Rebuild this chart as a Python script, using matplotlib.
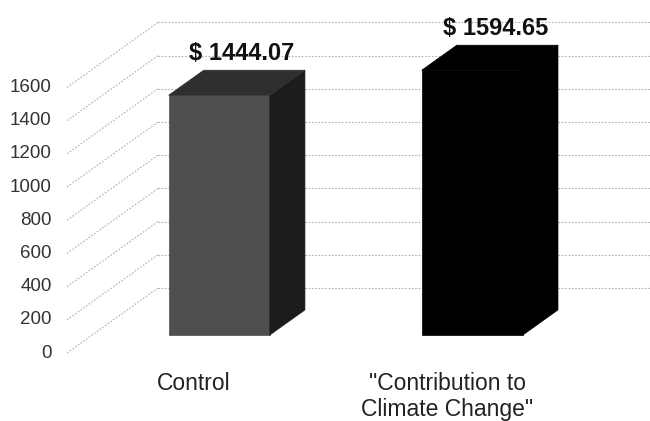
import matplotlib
matplotlib.use("Agg")
import matplotlib.pyplot as plt
from matplotlib.patches import Polygon

plt.rcParams["font.family"] = ["Liberation Sans", "DejaVu Sans"]

# data
categories = ["Control", "\"Contribution to\nClimate Change\""]
values = [1444.07, 1594.65]
value_labels = ["$ 1444.07", "$ 1594.65"]
yticks = [0, 200, 400, 600, 800, 1000, 1200, 1400, 1600]

# pseudo-3d geometry (category units / value units)
DX = 0.360      # full depth shift in x
DV = 392.0      # full depth shift in value units
Z_FRONT = 0.277
Z_BACK = 0.662
BAR_W = 0.40
WALL_X = -0.502
RIGHT_X = 1.85

face_colors = [("#4f4f4f", "#2f2f2f", "#1c1c1c"), ("#000000", "#000000", "#000000")]


def proj(x, v, z):
    return (x + z * DX, v + z * DV)


fig = plt.figure(figsize=(6.5, 4.21), dpi=100)
ax = fig.add_axes([0, 0, 1, 1])
ax.set_xlim(-0.7668, 1.802)
ax.set_ylim(-409.6, 2126.5)
ax.axis("off")

grid_kw = dict(color="#b0b0b0", lw=0.8, ls=(0, (1.5, 1.5)), zorder=1)
for t in yticks:
    x0, y0 = proj(WALL_X, t, 0)
    x1, y1 = proj(WALL_X, t, 1)
    ax.plot([x0, x1], [y0, y1], **grid_kw)
    ax.plot([x1, RIGHT_X], [y1, y1], **grid_kw)
    ax.text(x0 - 0.06, y0, str(t), ha="right", va="center",
            fontsize=13.5, color="#333333")

for i, (v, cols) in enumerate(zip(values, face_colors)):
    front_c, top_c, side_c = cols
    xl, xr = i - BAR_W / 2, i + BAR_W / 2
    front = [proj(xl, 0, Z_FRONT), proj(xr, 0, Z_FRONT),
             proj(xr, v, Z_FRONT), proj(xl, v, Z_FRONT)]
    side = [proj(xr, 0, Z_FRONT), proj(xr, 0, Z_BACK),
            proj(xr, v, Z_BACK), proj(xr, v, Z_FRONT)]
    top = [proj(xl, v, Z_FRONT), proj(xr, v, Z_FRONT),
           proj(xr, v, Z_BACK), proj(xl, v, Z_BACK)]
    for pts, c in ((front, front_c), (side, side_c), (top, top_c)):
        ax.add_patch(Polygon(pts, closed=True, facecolor=c,
                             edgecolor=c, lw=0.5, zorder=3))

    ax.text(i + 0.19, v + 0.92 * DV, value_labels[i], ha="center",
            va="center", fontsize=17, fontweight="bold", color="#111111",
            zorder=4)
    ax.text(i, -115, categories[i], ha="center", va="top", fontsize=16.5,
            color="#222222", linespacing=1.15)

fig.savefig("out.png", dpi=100)
